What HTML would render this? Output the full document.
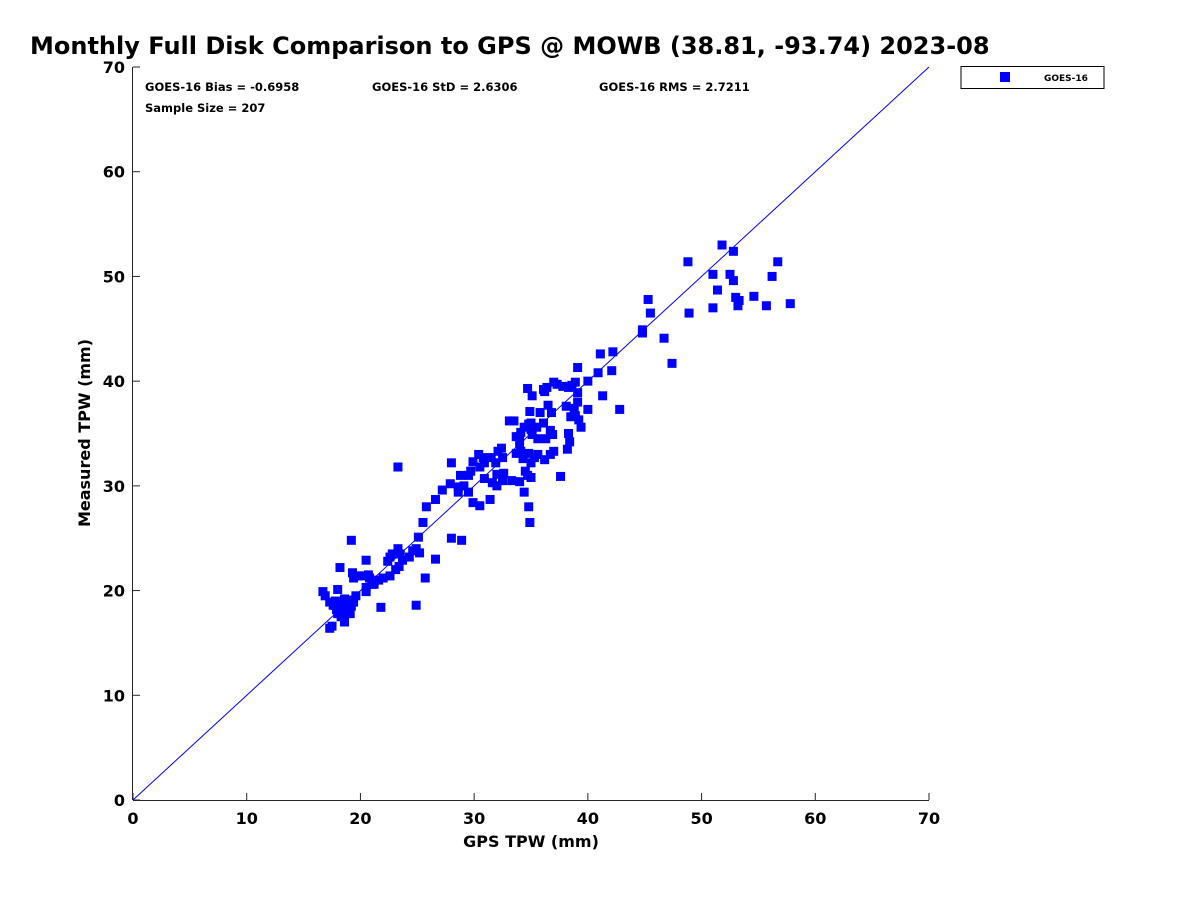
<!DOCTYPE html>
<html><head><meta charset="utf-8"><style>
html,body{margin:0;padding:0;background:#fff;width:1200px;height:900px;overflow:hidden}
svg text{font-family:"DejaVu Sans","Liberation Sans",sans-serif;font-weight:bold;fill:#000}
</style></head><body>
<svg id="chart" width="1200" height="900" xmlns="http://www.w3.org/2000/svg">
<text x="30" y="54" font-size="24">Monthly Full Disk Comparison to GPS @ MOWB (38.81, -93.74) 2023-08</text>
<g id="axes"></g>
<g id="marks"></g>
<text x="145" y="91" font-size="11.5">GOES-16 Bias = -0.6958</text>
<text x="372" y="91" font-size="11.5">GOES-16 StD = 2.6306</text>
<text x="599" y="91" font-size="11.5">GOES-16 RMS = 2.7211</text>
<text x="145" y="112" font-size="11.5">Sample Size = 207</text>
<g>
<rect x="961" y="66.5" width="143" height="22" fill="#fff" stroke="#000" stroke-width="1"/>
<rect x="1000" y="72" width="10" height="10" fill="#0000ff"/>
<text x="1044" y="81" font-size="9">GOES-16</text>
</g>
<text x="531" y="847" font-size="16" text-anchor="middle" fill="#262626">GPS TPW (mm)</text>
<text x="0" y="0" font-size="16" text-anchor="middle" fill="#262626" transform="translate(90,433) rotate(-90)">Measured TPW (mm)</text>
</svg>
<script>
const xTicks=[0,10,20,30,40,50,60,70];
const yTicks=[0,10,20,30,40,50,60,70];
const gpsX=[48.8,51.8,52.8,51,52.5,52.8,51.4,56.7,56.2,53,53.3,54.6,53.2,55.7,57.8,51,48.9,45.3,45.5,44.8,44.8,46.7,47.4,41.1,42.2,40.9,42.1,41.3,42.8,40,40,
39.1,38.9,38.6,38.3,37.8,37.3,37,36.4,36.2,35.1,34.7,39.1,39.1,38.8,38.5,38.1,38.9,39.2,39.4,36.5,36.8,35.8,34.9,36.1,35.5,35,34.8,34.4,34.1,34,33.7,35.1,35.6,36.3,36.7,36.9,37,36.7,36.2,35.6,35.3,35,34.8,34.3,34.1,33.7,34.5,34.7,34,34.4,35,37.6,38.2,38.4,38.3,34.8,34.9,33.1,33.5,32.5,32.6,32,31.6,32,31.4,32.4,32.1,31.5,30.8,30.5,30.9,30.4,29.9,29.7,29.5,28.8,28.6,28.6,29.1,29.5,29.9,30.5,32.5,33.3,31.9,30.9,28,27.9,27.2,26.6,25.8,25.5,26.6,25.1,24.9,25.2,24.6,24.3,23.7,23.5,23.3,23.4,23.1,22.8,22.6,22.4,22.6,22,21.6,21.2,20.8,20.7,21,20.5,20.5,20.5,19.3,19.8,20.2,19.4,19.2,18.2,23.3,28,28.9,25.7,24.9,21.8,36.1,34,35,
16.7,16.9,17.3,17.6,17.9,18,18.3,18.5,18.7,18.9,19,19.3,19.6,18,18.6,18.4,18,17.8,18.2,18.8,19,19.2,17.3,17.5,18.6,19.1,17.8,18.9,19.4,18.5,19.1];
const measY=[51.4,53,52.4,50.2,50.2,49.6,48.7,51.4,50,48,47.7,48.1,47.2,47.2,47.4,47,46.5,47.8,46.5,44.9,44.6,44.1,41.7,42.6,42.8,40.8,41,38.6,37.3,40,37.3,
41.3,39.9,39.6,39.4,39.5,39.7,39.9,39.4,39,38.6,39.3,38.9,38,37.4,36.6,37.6,36.7,36.3,35.6,37.7,37,37,37.1,36,35.6,35.4,35.9,35.6,35.1,34.7,34.7,34.9,34.5,34.5,35.3,34.9,33.3,33,32.5,33,32.7,32.2,33.1,32.6,33.3,33.1,31.4,31,30.4,29.4,30.8,30.9,33.5,34.2,35,28,26.5,36.2,36.2,32.7,31.2,31.1,30.3,30,28.7,33.6,33.3,32.7,32.7,31.8,30.7,33,32.3,31.4,31,31,29.9,29.4,30,29.4,28.4,28.1,30.5,30.5,32.2,32.2,32.2,30.2,29.6,28.7,28,26.5,23,25.1,24,23.6,23.8,23.2,22.9,23.5,24,22.3,22,23.5,23.2,22.8,21.4,21.2,21,20.6,21.2,21.5,20.6,20.3,19.9,22.9,21.7,21.4,21.4,21.2,24.8,22.2,31.8,25,24.8,21.2,18.6,18.4,39.2,34,36,
19.9,19.5,18.9,18.6,18.2,17.8,17.5,17.9,18.3,18.7,19.1,19.1,19.5,20.1,19.2,18.9,18.4,18.6,18,17.8,18.2,18.5,16.4,16.6,17,17.8,19,18,18.9,18.5,18.9];
const X0=133,X1=929,Y0=800,Y1=67,DMIN=0,DMAX=70;
function sx(v){return X0+(v-DMIN)/(DMAX-DMIN)*(X1-X0);}
function sy(v){return Y0-(v-DMIN)/(DMAX-DMIN)*(Y0-Y1);}
const NS="http://www.w3.org/2000/svg";
const axes=document.getElementById('axes'),marks=document.getElementById('marks');
function mk(tag,attrs,parent){const e=document.createElementNS(NS,tag);for(const k in attrs)e.setAttribute(k,attrs[k]);parent.appendChild(e);return e;}
let xa=mk('line',{x1:X0,y1:Y0+0.5,x2:X1,y2:Y0+0.5,stroke:'#262626','stroke-width':1},axes);


let ya=mk('line',{x1:X0-0.5,y1:Y0,x2:X0-0.5,y2:Y1,stroke:'#262626','stroke-width':1},axes);


xTicks.forEach(t=>{
 const x=sx(t);
 let l=mk('line',{x1:x,y1:Y0,x2:x,y2:Y0-7,stroke:'#262626'},axes);
 
 
 let tx=mk('text',{x:x,y:Y0+24,'font-size':16,'text-anchor':'middle',fill:'#262626'},axes);
 tx.textContent=t;
 
 
});
yTicks.forEach(t=>{
 const y=sy(t);
 let l=mk('line',{x1:X0,y1:y,x2:X0+7,y2:y,stroke:'#262626'},axes);
 
 
 let tx=mk('text',{x:X0-8,y:y+6,'font-size':16,'text-anchor':'end',fill:'#262626'},axes);
 tx.textContent=t;
 
 
});
let diag=mk('line',{x1:sx(0),y1:sy(0),x2:sx(70),y2:sy(70),stroke:'#0000ff','stroke-width':1},marks);


gpsX.forEach((v,i)=>{
 let r=mk('rect',{x:sx(v)-4.5,y:sy(measY[i])-4.5,width:9,height:9,fill:'#0000ff'},marks);
 
 
});
</script>
</body></html>
